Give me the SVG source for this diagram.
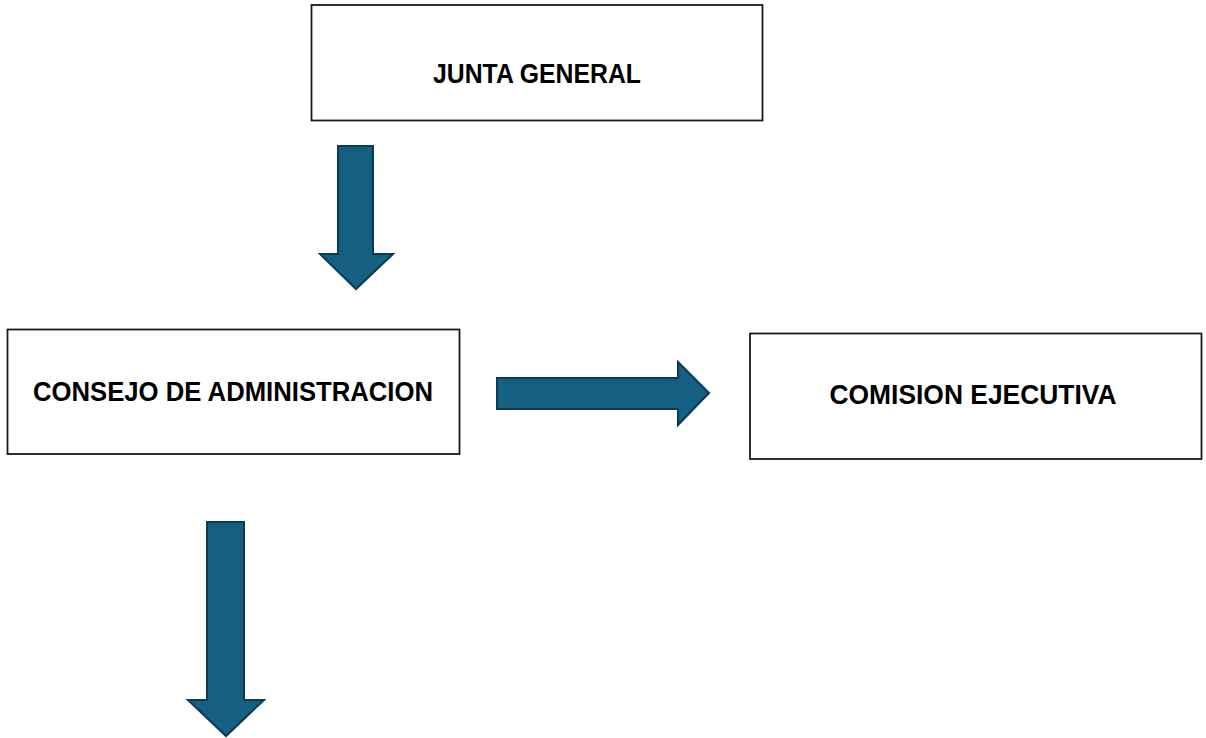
<svg xmlns="http://www.w3.org/2000/svg" width="1206" height="738" viewBox="0 0 1206 738">
<style>
.box{fill:#ffffff;stroke:#1a1a1a;stroke-width:1.8}
.lbl{font-family:"Liberation Sans",Arial,sans-serif;font-weight:bold;font-size:27px;fill:#000000;text-anchor:middle}
.arr{fill:#156082;stroke:#0c3a53;stroke-width:2;stroke-linejoin:miter}
</style>
<rect width="1206" height="738" fill="#ffffff"/>
<g id="junta-general">
<rect class="box" x="311.5" y="5" width="451" height="115.5"/>
<text class="lbl" x="537" y="83" textLength="208" lengthAdjust="spacingAndGlyphs">JUNTA GENERAL</text>
</g>
<g id="consejo-administracion">
<rect class="box" x="7.5" y="329.5" width="452" height="124.5"/>
<text class="lbl" x="233" y="401" textLength="400" lengthAdjust="spacingAndGlyphs">CONSEJO DE ADMINISTRACION</text>
</g>
<g id="comision-ejecutiva">
<rect class="box" x="750" y="333.5" width="451.5" height="125.5"/>
<text class="lbl" x="973" y="404" textLength="287" lengthAdjust="spacingAndGlyphs">COMISION EJECUTIVA</text>
</g>
<g id="connectors">
<polygon class="arr" points="338,146 373,146 373,254 393,254 356,289 320,254 338,254"/>
<polygon class="arr" points="497,378 678,378 678,362 709,393 678,425 678,409 497,409"/>
<polygon class="arr" points="207,522 244,522 244,700 264,700 226,736 188,700 207,700"/>
</g>
</svg>
